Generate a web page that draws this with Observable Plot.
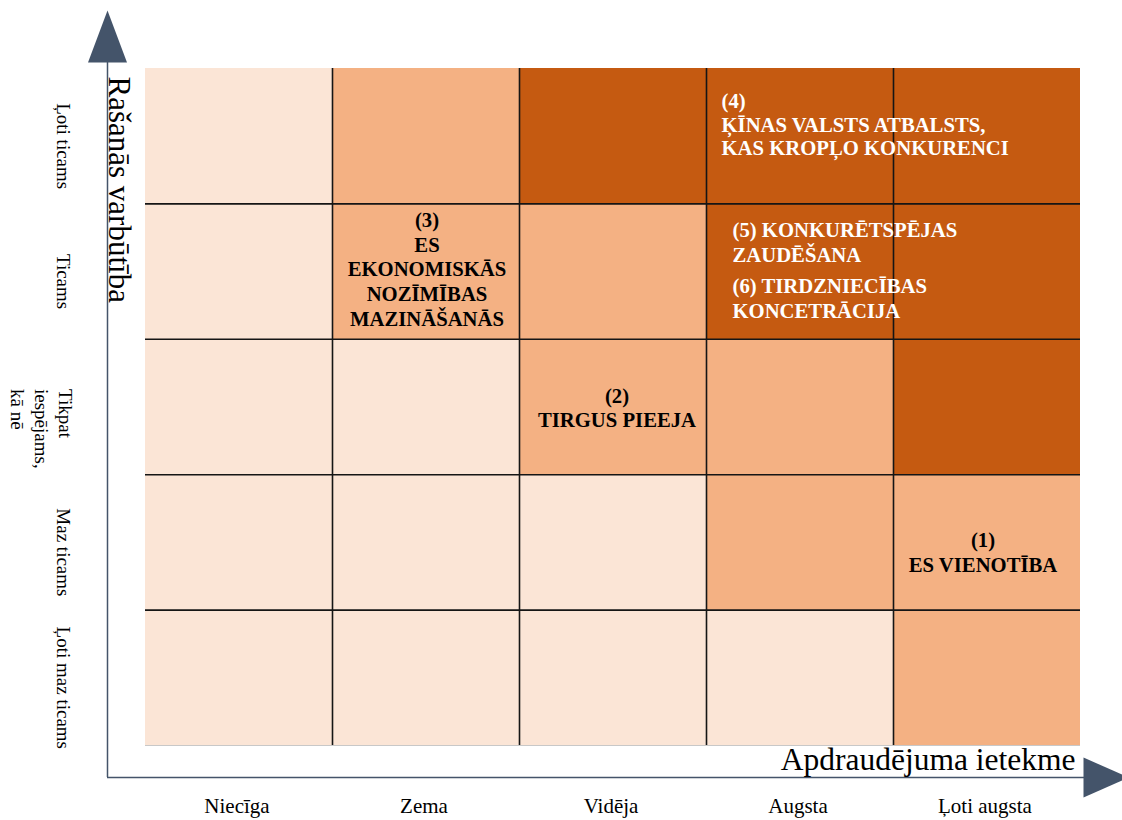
<!DOCTYPE html>
<html>
<head>
<meta charset="utf-8">
<script src="https://cdn.jsdelivr.net/npm/d3@7"></script>
<script src="https://cdn.jsdelivr.net/npm/@observablehq/plot@0.6"></script>
<style>
  html, body { margin: 0; padding: 0; background: #ffffff; }
  #chart svg { display: block; }
</style>
</head>
<body>
<div id="chart"></div>
<script>
// ---- Data ----
const impactLabels = ["Niecīga", "Zema", "Vidēja", "Augsta", "Ļoti augsta"];
// likelihood levels 1..5 (bottom to top)
const likelihoodLabels = ["Ļoti maz ticams", "Maz ticams", "Tikpat\niespējams,\nkā nē", "Ticams", "Ļoti ticams"];
// risk level per cell; rows listed from "Ļoti ticams" (top) down to "Ļoti maz ticams"
const riskLevelRows = [
  [1, 2, 3, 3, 3],
  [1, 2, 2, 3, 3],
  [1, 1, 2, 2, 3],
  [1, 1, 1, 2, 2],
  [1, 1, 1, 1, 2]
];
const levelColors = ["#FBE5D6", "#F4B183", "#C55A11"];

const riskIds = [1, 2, 3, 4, 5, 6];
const riskNames = [
  "ES VIENOTĪBA",
  "TIRGUS PIEEJA",
  "ES\nEKONOMISKĀS\nNOZĪMĪBAS\nMAZINĀŠANĀS",
  "ĶĪNAS VALSTS ATBALSTS,\nKAS KROPĻO KONKURENCI",
  "KONKURĒTSPĒJAS\nZAUDĒŠANA",
  "TIRDZNIECĪBAS\nKONCETRĀCIJA"
];
const riskImpact = [5, 3, 2, 4, 4, 4];
const riskLikelihood = [2, 3, 4, 5, 4, 4];

const xTitle = "Apdraudējuma ietekme";
const yTitle = "Rašanās varbūtība";

// ---- Tables built from the arrays ----
const cells = [];
riskLevelRows.forEach((row, r) => {
  row.forEach((level, c) => {
    cells.push({impact: c + 1, likelihood: 5 - r, level});
  });
});
const risks = riskIds.map((id, i) => ({
  id, name: riskNames[i], impact: riskImpact[i], likelihood: riskLikelihood[i]
}));
const impacts = impactLabels.map((label, i) => ({label, level: i + 1}));
const likelihoods = likelihoodLabels.map((label, i) => ({label, level: i + 1}));

// ---- Layout (styles only) ----
const FONT = "Liberation Serif";
const AXIS = "#44546A";
const RISK_FS = 20.7;
const layout = {
  1: {mode: "center", dx: -4, dy: 9},
  2: {mode: "center", dx: 4, dy: 0},
  3: {mode: "center", dx: 1, dy: -3},
  4: {mode: "corner", dx: 15, dy: 23, lh: 1.14},
  5: {mode: "corner", dx: 26, dy: 16, lh: 1.19, inline: true},
  6: {mode: "corner", dx: 26, dy: 72, lh: 1.19, inline: true}
};
function riskText(d) {
  return layout[d.id].inline ? `(${d.id}) ${d.name}` : `(${d.id})\n${d.name}`;
}
const riskMarks = risks.map((d) => {
  const L = layout[d.id];
  const white = riskLevelRows[5 - d.likelihood][d.impact - 1] === 3;
  if (L.mode === "center") {
    return Plot.text([d], {
      x: (r) => r.impact - 0.5, y: (r) => r.likelihood - 0.5, text: riskText,
      dx: L.dx, dy: L.dy, fontFamily: FONT, fontSize: RISK_FS, fontWeight: "bold",
      lineHeight: 1.19, lineAnchor: "middle", textAnchor: "middle",
      fill: white ? "#ffffff" : "#000000"
    });
  }
  return Plot.text([d], {
    x: (r) => r.impact - 1, y: (r) => r.likelihood, text: riskText,
    dx: L.dx, dy: L.dy, fontFamily: FONT, fontSize: RISK_FS, fontWeight: "bold",
    lineHeight: L.lh, lineAnchor: "top", textAnchor: "start",
    fill: white ? "#ffffff" : "#000000"
  });
});

// Custom filled arrowhead symbols
const arrowUp = {draw(ctx) { ctx.moveTo(0, -26); ctx.lineTo(19.5, 26); ctx.lineTo(-19.5, 26); ctx.closePath(); }};
const arrowRight = {draw(ctx) { ctx.moveTo(0, -20); ctx.lineTo(45, 0); ctx.lineTo(0, 20); ctx.closePath(); }};

const chart = Plot.plot({
  width: 1122,
  height: 820,
  marginTop: 68,
  marginBottom: 75,
  marginLeft: 145,
  marginRight: 42,
  style: {fontFamily: FONT, background: "#ffffff", overflow: "visible"},
  x: {domain: [0, 5], axis: null},
  y: {domain: [0, 5], axis: null},
  color: {type: "ordinal", domain: [1, 2, 3], range: levelColors, legend: false},
  marks: [
    Plot.rect(cells, {
      x1: (d) => d.impact - 1, x2: (d) => d.impact,
      y1: (d) => d.likelihood - 1, y2: (d) => d.likelihood,
      fill: "level", shapeRendering: "crispEdges"
    }),
    Plot.ruleY([0], {stroke: "#c8c8c8", strokeWidth: 1}),
    Plot.ruleX([1, 2, 3, 4], {stroke: "#151515", strokeWidth: 1.6}),
    Plot.ruleY([1, 2, 3, 4], {stroke: "#151515", strokeWidth: 1.6}),
    // axis lines with arrows
    Plot.ruleX([0], {dx: -38, insetTop: -6, insetBottom: -32, stroke: AXIS, strokeWidth: 1.5}),
    Plot.ruleY([0], {dy: 32, insetLeft: -38, insetRight: -10, stroke: AXIS, strokeWidth: 1.5}),
    Plot.dot([0], {x: 0, y: 5, dx: -38, dy: -32, symbol: arrowUp, fill: AXIS, stroke: "none"}),
    Plot.dot([0], {x: 5, y: 0, dx: 3, dy: 32, symbol: arrowRight, fill: AXIS, stroke: "none"}),
    // x tick labels
    Plot.text(impacts, {
      x: (d) => d.level - 0.5, y: 0, text: "label", dx: -2, dy: 67,
      lineAnchor: "bottom", textAnchor: "middle", fontFamily: FONT, fontSize: 21, fill: "#000"
    }),
    // y tick labels (single line)
    Plot.text(likelihoods.filter((d) => !d.label.includes("\n")), {
      x: 0, y: (d) => d.level - 0.5, text: "label", dx: -72, dy: 10, rotate: 90,
      lineAnchor: "top", lineHeight: 1.25, textAnchor: "middle", fontFamily: FONT, fontSize: 19, fill: "#000"
    }),
    // y tick labels (multi line)
    Plot.text(likelihoods.filter((d) => d.label.includes("\n")), {
      x: 0, y: (d) => d.level - 0.5, text: "label", dx: -70, dy: -18, rotate: 90,
      lineAnchor: "top", lineHeight: 1.25, textAnchor: "start", fontFamily: FONT, fontSize: 19, fill: "#000"
    }),
    // axis titles
    Plot.text([xTitle], {
      x: 5, y: 0, text: (d) => d, dx: -5, dy: 24,
      lineAnchor: "bottom", textAnchor: "end", fontFamily: FONT, fontSize: 31.5, fill: "#000"
    }),
    Plot.text([yTitle], {
      x: 0, y: 5, text: (d) => d, dx: -37, dy: 8, rotate: 90,
      lineAnchor: "bottom", textAnchor: "start", fontFamily: FONT, fontSize: 31, fill: "#000"
    }),
    ...riskMarks
  ]
});
document.getElementById("chart").appendChild(chart);
</script>
</body>
</html>
